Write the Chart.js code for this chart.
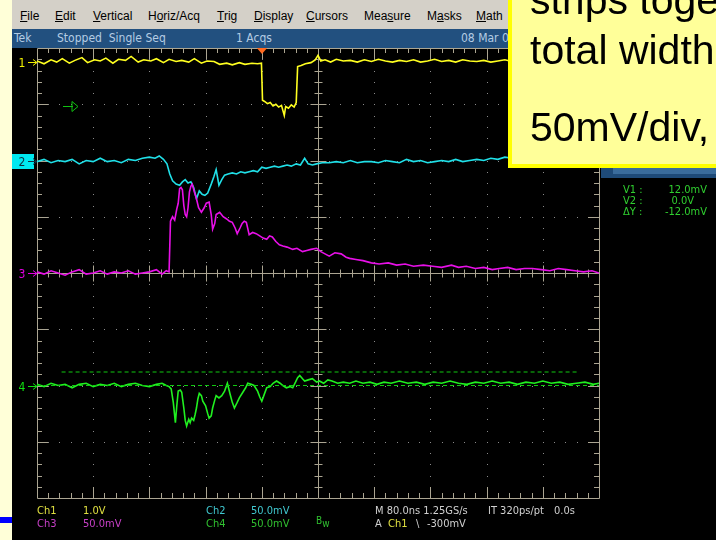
<!DOCTYPE html>
<html><head><meta charset="utf-8">
<script src="https://cdn.jsdelivr.net/npm/chart.js@4"></script>
<style>
html,body{margin:0;padding:0;width:716px;height:540px;overflow:hidden;background:#000;position:relative;}
.abs{position:absolute;white-space:pre;}
#cv{position:absolute;left:0;top:0;z-index:0;}
#pale{left:0;top:0;width:12px;height:540px;background:#FFFFD8;z-index:2;}
#bluebar{left:0;top:517px;width:12px;height:6px;background:#0000FF;z-index:3;}
#menu{left:12px;top:0;width:500px;height:29px;background:#D4D0C8;font:12px "Liberation Sans",Arial,sans-serif;color:#000;z-index:2;}
#menu span{position:absolute;top:10px;line-height:13px;}
#status{left:12px;top:29px;width:500px;height:19px;background:#22507F;font:12px "DejaVu Sans Condensed","Liberation Sans Narrow",sans-serif;color:#B4CCE4;z-index:2;}
#status span{position:absolute;top:2px;line-height:14px;}
#box{left:508px;top:-4px;width:230px;height:168px;background:#FFFF99;border-left:4px solid #FFFF00;border-bottom:4px solid #FFFF00;z-index:4;overflow:hidden;}
#box div{position:absolute;left:18px;font:41px "Liberation Sans",Arial,sans-serif;line-height:41px;color:#000;white-space:pre;}
.sc{font:11px "DejaVu Sans Condensed","Liberation Sans Narrow",sans-serif;line-height:11px;z-index:2;}
#panel{left:601px;top:168px;width:115px;height:10px;background:#1E4A78;z-index:3;}
#panel2{left:613px;top:168px;width:103px;height:6px;background:#3A6C9C;z-index:3;}
.cur{color:#30D030;font:11px "DejaVu Sans Condensed","Liberation Sans Narrow",sans-serif;line-height:11px;z-index:2;}
</style></head>
<body>
<canvas id="cv" width="716" height="540"></canvas>
<div id="pale" class="abs"></div>
<div id="bluebar" class="abs"></div>
<div id="menu" class="abs">
<span style="left:8px"><u>F</u>ile</span>
<span style="left:43px"><u>E</u>dit</span>
<span style="left:81px"><u>V</u>ertical</span>
<span style="left:136px">H<u>o</u>riz/Acq</span>
<span style="left:205px"><u>T</u>rig</span>
<span style="left:242px"><u>D</u>isplay</span>
<span style="left:294px"><u>C</u>ursors</span>
<span style="left:352px">Mea<u>s</u>ure</span>
<span style="left:415px">M<u>a</u>sks</span>
<span style="left:464px"><u>M</u>ath</span>
</div>
<div id="status" class="abs">
<span style="left:2px">Tek</span>
<span style="left:45px">Stopped  Single Seq</span>
<span style="left:224px">1 Acqs</span>
<span style="left:449px">08 Mar 0</span>
</div>
<div id="box" class="abs">
<div style="top:-16px">strips together</div>
<div style="top:34px">total width</div>
<div style="top:111px">50mV/div,</div>
</div>
<div id="panel" class="abs"></div>
<div id="panel2" class="abs"></div>
<div class="abs cur" style="left:623px;top:184px">V1 :</div>
<div class="abs cur" style="left:660px;top:184px;width:47px;text-align:right">12.0mV</div>
<div class="abs cur" style="left:623px;top:195px">V2 :</div>
<div class="abs cur" style="left:660px;top:195px;width:34px;text-align:right">0.0V</div>
<div class="abs cur" style="left:623px;top:206px">ΔY :</div>
<div class="abs cur" style="left:650px;top:206px;width:57px;text-align:right">-12.0mV</div>

<div class="abs sc" style="left:37px;top:505px;color:#E0E040">Ch1</div>
<div class="abs sc" style="left:83px;top:505px;color:#E0E040">1.0V</div>
<div class="abs sc" style="left:37px;top:518px;color:#C840C8">Ch3</div>
<div class="abs sc" style="left:83px;top:518px;color:#C840C8">50.0mV</div>
<div class="abs sc" style="left:206px;top:505px;color:#40C8D0">Ch2</div>
<div class="abs sc" style="left:251px;top:505px;color:#40C8D0">50.0mV</div>
<div class="abs sc" style="left:206px;top:518px;color:#30C030">Ch4</div>
<div class="abs sc" style="left:251px;top:518px;color:#30C030">50.0mV</div>
<div class="abs sc" style="left:316px;top:515px;color:#30C030;font-size:10px">B<span style="position:relative;top:3px">w</span></div>
<div class="abs sc" style="left:375px;top:505px;color:#D0D0D0">M 80.0ns 1.25GS/s</div>
<div class="abs sc" style="left:488px;top:505px;color:#D0D0D0">IT 320ps/pt</div>
<div class="abs sc" style="left:554px;top:505px;color:#D0D0D0">0.0s</div>
<div class="abs sc" style="left:375px;top:518px;color:#D0D0D0">A</div>
<div class="abs sc" style="left:388px;top:518px;color:#E0E040">Ch1</div>
<div class="abs sc" style="left:416px;top:518px;color:#D0D0D0">\</div>
<div class="abs sc" style="left:427px;top:518px;color:#D0D0D0">-300mV</div>

<script>
// ---- horizontal (time) setup ----
const timePerDiv = 80;      // ns/div
const tStart = -320;        // ns at left graticule edge
const hDivs = 10, vDivs = 8;

// ---- channel scale / offsets (divisions) ----
const ch1PerDiv = 1.0, ch1Offset = 3.75;   // V
const ch2PerDiv = 50,  ch2Offset = 2;      // mV
const ch3PerDiv = 50,  ch3Offset = 0;      // mV
const ch4PerDiv = 50,  ch4Offset = -2;     // mV

// ---- Ch1 (yellow, V) ----
const ch1T = [-320,-310,-300,-292,-284,-274,-266,-256,-248,-238,-230,-222,-212,-204,-194,-186,-176,-168,-158,-150,-140,-132,-122,-114,-104,-96,-86,-78,-68,-60,-50,-42,-32,-24,-14,-6,-0.5,
 1,4,8,12,16,20,24,28,32,34,38,42,46,
 49,51,56,62,70,76,80,84,90,98,
 106,116,126,136,146,156,166,176,186,196,
 206,216,226,236,246,256,266,276,286,296,
 306,316,326,336,346,356,370,390,410,430,450,470,480];
const ch1V = [0.02,-0.03,0.04,0.0,0.06,-0.02,0.03,0.08,-0.01,0.04,
 0.02,0.07,-0.02,0.05,0.03,0.1,0.0,0.04,0.02,0.06,
 -0.01,0.05,0.01,0.03,0.0,0.06,-0.02,0.02,0.01,-0.04,
 -0.02,-0.05,-0.01,-0.04,-0.02,-0.03,-0.02,
 -0.68,-0.7,-0.74,-0.72,-0.78,-0.75,-0.8,-0.77,-0.95,-0.79,-0.82,-0.76,-0.8,
 -0.72,-0.08,-0.06,-0.03,-0.01,0.04,0.12,0.02,0.04,0.0,
 0.05,0.02,0.03,0.0,0.04,0.01,0.05,0.02,0.0,0.03,
 0.01,0.04,0.0,0.02,0.05,0.01,0.03,0.0,0.04,0.02,
 0.01,0.03,0.0,0.02,0.04,0.01,0.03,0.0,0.02,0.01,0.03,0.0,0.02];

// ---- Ch2 (cyan, mV) ----
const ch2T = [-320,-310,-300,-290,-280,-270,-260,-250,-240,-230,
 -220,-210,-200,-190,-180,-170,-160,-152,-146,-140,
 -135,-131,-127,-122,-117,-113,-109,-105,-101,-97,
 -93,-89,-85,-81,-77,-72,-68,-65,-61,-57,
 -53,-48,-42,-36,-30,-24,-18,-12,-6,0,
 6,12,18,24,30,36,42,49,55,61,
 66,72,78,86,96,106,116,126,136,146,
 156,166,176,186,196,206,216,226,236,246,
 256,266,276,286,296,306,316,326,336,346,356];
const ch2V = [-1,1,-2,0,-1,1,-3,0,-1,2,
 -1,0,-2,1,0,2,3,2,4,1,
 -3,-12,-18,-21,-22,-19,-17,-20,-19,-24,
 -34,-27,-30,-31,-29,-21,-14,-8,-22,-17,
 -13,-12,-11,-12,-10,-11,-10,-9,-10,-6,
 -7,-6,-5,-6,-5,-4,-5,-3,-4,2,
 -3,-4,-3,-2,-2,-1,-2,0,-2,-1,
 -1,-2,0,-1,-2,1,-1,0,-2,-1,
 0,-1,1,-1,0,1,0,2,1,3,2];

// ---- Ch3 (magenta, mV) ----
const ch3T = [-320,-310,-300,-290,-280,-270,-260,-250,-240,-230,
 -220,-210,-200,-190,-180,-170,-160,-150,-142,-136,
 -132,-130,-127,-124,-121,-119,-117,-115,-113,-111,
 -109,-107,-105,-103,-101,-99,-96,-93,-90,-86,
 -82,-79,-75,-72,-70,-67,-65,-60,-55,-50,
 -46,-42,-38,-35,-31,-28,-25,-22,-18,-13,
 -8,-3,2,7,11,15,20,25,30,36,
 44,50,58,64,70,78,84,90,96,104,
 113,120,125,134,144,156,167,180,192,204,
 216,230,243,256,270,280,291,304,316,328,
 338,350,362,374,385,398,410,422,434,446,
 458,470,480];
const ch3V = [1,-1,2,0,-2,1,3,-1,0,2,
 -1,1,0,2,-1,0,1,3,-1,2,
 1,46,50,47,57,62,75,76,74,60,
 52,50,58,72,77,79,72,66,58,54,
 58,62,63,52,39,44,52,54,50,48,
 46,45,40,35,40,44,46,45,34,36,
 35,33,31,30,33,32,28,25,24,23,
 21,22,19,20,21,22,19,17,15,18,
 17,14,13,12,11,9,8,9,7,8,
 6,7,6,5,7,5,6,4,5,3,
 4,5,3,4,4,3,2,4,3,2,
 1,2,0];

// ---- Ch4 (green, mV) ----
const ch4T = [-320,-310,-300,-290,-280,-270,-260,-250,-240,-230,
 -220,-210,-200,-190,-180,-170,-160,-150,-142,-136,
 -132,-129,-126,-123,-121,-119,-116,-114,-111,-109,
 -107,-104,-102,-100,-97,-95,-93,-91,-89,-86,
 -84,-80,-77,-75,-72,-70,-67,-65,-61,-57,
 -53,-49,-45,-42,-39,-35,-32,-27,-23,-20,
 -15,-11,-6,-3,0,4,7,12,16,21,
 26,30,35,40,44,48,51,54,58,61,
 66,72,78,82,88,94,100,108,116,125,
 134,144,154,164,174,184,196,208,220,232,
 244,256,268,280,292,304,316,328,340,352,
 364,376,388,400,412,424,436,448,460,472,480];
const ch4V = [1,-1,2,0,1,-2,1,2,-1,1,
 0,2,-1,1,2,0,-1,1,2,0,
 -1,-3,-15,-33,-18,-5,-4,-6,-20,-31,
 -36,-30,-33,-29,-31,-26,-20,-12,-7,-9,
 -14,-18,-25,-29,-27,-20,-13,-9,-11,-9,
 -5,2,-8,-15,-20,-15,-11,-6,-2,2,
 1,0,-5,-10,-14,-7,-2,-1,2,4,
 2,0,-2,-1,-2,3,7,9,6,4,
 5,6,3,4,2,5,4,2,3,2,
 4,2,3,1,3,2,4,2,3,1,
 3,2,4,2,1,3,2,4,2,3,
 1,3,2,4,2,3,1,2,3,1,2];

// ---- Ch4 cursors (mV) and their time spans (ns) ----
const cursorV = [12, 0];
const cursorSpan = [[-285, 449], [-320, 480]];

function pts(T, V, off, per){ return T.map((t,i)=>({x:t, y: off + V[i]/per})); }

const lineColor = '#ABA592', dotColor = '#8A8A8A';

const graticule = {
  id:'graticule',
  beforeDatasetsDraw(chart){
    const ctx = chart.ctx, xs = chart.scales.x, ys = chart.scales.y;
    const X = d => Math.round(xs.getPixelForValue(tStart + d*timePerDiv));
    const Y = d => Math.round(ys.getPixelForValue(vDivs/2 - d));
    const L = X(0), R = X(hDivs), T = Y(0), B = Y(vDivs);
    ctx.save();
    ctx.fillStyle = dotColor;
    for (let i=1;i<hDivs;i++){ if (i===hDivs/2) continue;
      for (let j=0;j<=vDivs*5;j++) ctx.fillRect(X(i), Y(j/5), 1, 1); }
    for (let k=1;k<vDivs;k++){ if (k===vDivs/2) continue;
      for (let j=0;j<=hDivs*5;j++) ctx.fillRect(X(j/5), Y(k), 1, 1); }
    ctx.strokeStyle = lineColor; ctx.lineWidth = 1;
    ctx.beginPath();
    ctx.rect(L+0.5, T+0.5, R-L, B-T);
    const cx = X(hDivs/2)+0.5, cy = Y(vDivs/2)+0.5;
    ctx.moveTo(cx, T); ctx.lineTo(cx, B);
    ctx.moveTo(L, cy); ctx.lineTo(R, cy);
    for (let j=1;j<hDivs*5;j++){
      const x = X(j/5)+0.5, major = j%5===0, len = major?11:5, c = major?8:4;
      ctx.moveTo(x, T); ctx.lineTo(x, T+len);
      ctx.moveTo(x, B); ctx.lineTo(x, B-len);
      ctx.moveTo(x, cy-c); ctx.lineTo(x, cy+c);
    }
    for (let j=1;j<vDivs*5;j++){
      const y = Y(j/5)+0.5, major = j%5===0, len = major?11:5, c = major?8:4;
      ctx.moveTo(L, y); ctx.lineTo(L+len, y);
      ctx.moveTo(R, y); ctx.lineTo(R-len, y);
      ctx.moveTo(cx-c, y); ctx.lineTo(cx+c, y);
    }
    ctx.stroke();
    ctx.restore();
  },
  afterDatasetsDraw(chart){
    const ctx = chart.ctx, xs = chart.scales.x, ys = chart.scales.y;
    const L = xs.left, T = ys.top;
    ctx.save();
    const tx = Math.round(xs.getPixelForValue(0));
    ctx.fillStyle = '#FF6A20';
    ctx.beginPath(); ctx.moveTo(tx-6, T-1); ctx.lineTo(tx+6, T-1); ctx.lineTo(tx, T+6); ctx.closePath(); ctx.fill();
    ctx.font = '12px "DejaVu Sans Condensed", sans-serif';
    ctx.textAlign = 'center'; ctx.textBaseline = 'middle';
    const mk = (off, col, label, boxed) => {
      const y = Math.round(ys.getPixelForValue(off)) + 0.5;
      if (boxed){ ctx.fillStyle = col; ctx.fillRect(12, y-7.5, 22, 15); }
      const fg = boxed ? '#103040' : col;
      ctx.fillStyle = fg; ctx.fillText(label, 22, y+1);
      ctx.strokeStyle = fg; ctx.lineWidth = 1;
      ctx.beginPath(); ctx.moveTo(28, y); ctx.lineTo(L, y); ctx.stroke();
      ctx.beginPath(); ctx.moveTo(L-4, y-3); ctx.lineTo(L, y); ctx.lineTo(L-4, y+3); ctx.stroke();
    };
    mk(ch1Offset, '#F0F000', '1', false);
    mk(ch2Offset, '#00E8F0', '2', true);
    mk(ch3Offset, '#E000E0', '3', false);
    mk(ch4Offset, '#10E010', '4', false);
    const gy = Math.round(ys.getPixelForValue(2.97)) + 0.5;
    ctx.strokeStyle = '#10C010';
    ctx.beginPath(); ctx.moveTo(63, gy); ctx.lineTo(73, gy);
    ctx.moveTo(72, gy-5); ctx.lineTo(78, gy); ctx.lineTo(72, gy+5); ctx.closePath(); ctx.stroke();
    ctx.restore();
  }
};

const datasets = [
  {data: cursorSpan[0].map(t=>({x:t, y: ch4Offset + cursorV[0]/ch4PerDiv})), borderColor:'#10C810', borderWidth:1, borderDash:[4,3]},
  {data: cursorSpan[1].map(t=>({x:t, y: ch4Offset + cursorV[1]/ch4PerDiv})), borderColor:'#10C810', borderWidth:1, borderDash:[4,3]},
  {data: pts(ch4T, ch4V, ch4Offset, ch4PerDiv), borderColor:'#20F020', borderWidth:1.6},
  {data: pts(ch3T, ch3V, ch3Offset, ch3PerDiv), borderColor:'#E810E8', borderWidth:1.6},
  {data: pts(ch2T, ch2V, ch2Offset, ch2PerDiv), borderColor:'#20E0E8', borderWidth:1.6},
  {data: pts(ch1T, ch1V, ch1Offset, ch1PerDiv), borderColor:'#FFFF20', borderWidth:1.6}
];
datasets.forEach(d=>{ d.pointRadius = 0; d.tension = 0; d.fill = false; });

new Chart(document.getElementById('cv'), {
  type: 'line',
  data: { datasets },
  options: {
    responsive: false, devicePixelRatio: 1, animation: false,
    layout: { padding: { left: 37, top: 48, right: 117, bottom: 42 } },
    scales: {
      x: { type: 'linear', min: tStart, max: tStart + hDivs*timePerDiv, display: false },
      y: { type: 'linear', min: -vDivs/2, max: vDivs/2, display: false }
    },
    plugins: { legend: { display: false }, tooltip: { enabled: false } }
  },
  plugins: [graticule]
});
</script>
</body></html>
